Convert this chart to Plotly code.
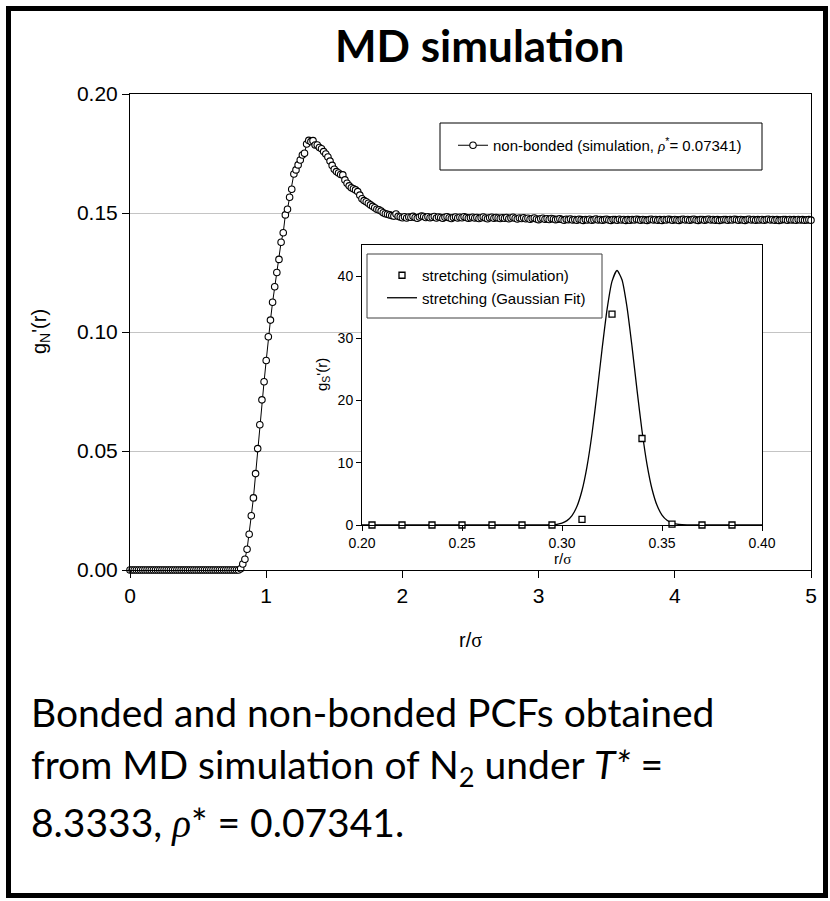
import numpy as np
import plotly.graph_objects as go

# ---------------- data ----------------
# non-bonded PCF g_N'(r), r/sigma sampled uniformly from 0 to 5
g_nonbonded = [
    0.0, 0.0, 0.0, 0.0, 0.0, 0.0, 0.0, 0.0, 0.0, 0.0,
    0.0, 0.0, 0.0, 0.0, 0.0, 0.0, 0.0, 0.0, 0.0, 0.0,
    0.0, 0.0, 0.0, 0.0, 0.0, 0.0, 0.0, 0.0, 0.0, 0.0,
    0.0, 0.0, 0.0, 0.0, 0.0, 0.0, 0.0, 0.0, 0.0, 0.0,
    0.0, 0.0, 0.0, 0.0, 0.0, 0.0, 0.0, 0.0, 0.0, 0.0,
    0.0, 0.0,
    0.0005, 0.0025, 0.0045, 0.0087, 0.0150, 0.0228, 0.0303, 0.0405, 0.0510, 0.0610,
    0.0715, 0.0791, 0.0880, 0.0980, 0.1050, 0.1125, 0.1190, 0.1250, 0.1305, 0.1377,
    0.1417, 0.1492, 0.1516, 0.1566, 0.1600, 0.1664, 0.1681, 0.1702, 0.1723, 0.1744,
    0.1751, 0.1790, 0.1805, 0.1800, 0.1804, 0.1786, 0.1786, 0.1775, 0.1770, 0.1758,
    0.1748, 0.1735, 0.1718, 0.1700, 0.1684, 0.1674, 0.1668, 0.1662, 0.1660, 0.1639,
    0.1625, 0.1614, 0.1606, 0.1602, 0.1597, 0.1590, 0.1575, 0.1560, 0.1552, 0.1547,
    0.1541, 0.1534, 0.1528, 0.1522, 0.1516, 0.1513, 0.1508, 0.1501, 0.1497, 0.1495,
    0.1492, 0.1489, 0.1487, 0.1496, 0.1486, 0.1483,
    0.1480, 0.1484, 0.1479, 0.1483, 0.1482, 0.1486, 0.1481, 0.1478, 0.1483, 0.1487, 0.1485, 0.1481, 0.1484,
    0.1480, 0.1482, 0.1485, 0.1479, 0.1483, 0.1481, 0.1478, 0.1482, 0.1484, 0.1480,
    0.1477, 0.1481, 0.1483, 0.1479, 0.1482, 0.1480, 0.1484, 0.1481, 0.1478, 0.1480,
    0.1482, 0.1479, 0.1481, 0.1477, 0.1480, 0.1483, 0.1479, 0.1476, 0.1480, 0.1482,
    0.1478, 0.1481, 0.1479, 0.1477, 0.1480, 0.1478, 0.1481, 0.1476, 0.1479, 0.1482,
    0.1478, 0.1475, 0.1479, 0.1477, 0.1480, 0.1476, 0.1478, 0.1474, 0.1477, 0.1479,
    0.1475, 0.1472, 0.1476, 0.1478, 0.1474, 0.1476, 0.1473, 0.1477, 0.1475, 0.1472,
    0.1474, 0.1476, 0.1473, 0.1470, 0.1474, 0.1472, 0.1475, 0.1471, 0.1473, 0.1470,
    0.1474, 0.1472, 0.1469, 0.1473, 0.1471, 0.1474, 0.1470, 0.1472, 0.1475, 0.1471,
    0.1473, 0.1470, 0.1472, 0.1474, 0.1471, 0.1469, 0.1473, 0.1472, 0.1470, 0.1474,
    0.1471, 0.1473, 0.1469, 0.1472, 0.1470, 0.1473, 0.1471, 0.1474, 0.1472, 0.1470,
    0.1473, 0.1471, 0.1469, 0.1472, 0.1474, 0.1471, 0.1473, 0.1470, 0.1472, 0.1469,
    0.1473, 0.1471, 0.1474, 0.1472, 0.1470, 0.1473, 0.1471, 0.1469, 0.1472, 0.1474,
    0.1471, 0.1473, 0.1470, 0.1472, 0.1474, 0.1471, 0.1469, 0.1472, 0.1473, 0.1470,
    0.1472, 0.1474, 0.1471, 0.1473, 0.1470, 0.1472, 0.1469, 0.1471, 0.1473, 0.1472,
    0.1470, 0.1473, 0.1471, 0.1474, 0.1472, 0.1470, 0.1473, 0.1471, 0.1469, 0.1472,
    0.1474, 0.1471, 0.1473, 0.1470, 0.1472, 0.1471, 0.1473, 0.1470, 0.1472, 0.1474,
    0.1471, 0.1473, 0.1470, 0.1472, 0.1469, 0.1471, 0.1473, 0.1472, 0.1470, 0.1473,
    0.1471, 0.1472, 0.1470, 0.1473, 0.1471, 0.1472, 0.1470, 0.1471, 0.1472, 0.1470,
]
r_nonbonded = np.linspace(0.0, 5.0, len(g_nonbonded))

# stretching (bonded) PCF, simulation points
r_stretch_sim = [0.205, 0.220, 0.235, 0.250, 0.265, 0.280, 0.295, 0.310, 0.325, 0.340, 0.355, 0.370, 0.385]
g_stretch_sim = [0.0, 0.0, 0.0, 0.0, 0.0, 0.0, 0.0, 0.9, 33.9, 13.9, 0.15, 0.0, 0.0]

# stretching, Gaussian fit curve
r_stretch_fit = [0.200, 0.210, 0.220, 0.230, 0.240, 0.250, 0.260, 0.270, 0.280, 0.285,
                 0.2900, 0.2925, 0.2950, 0.2975, 0.3000, 0.3025, 0.3050, 0.3075, 0.3100, 0.3125,
                 0.3150, 0.3175, 0.3200, 0.3225, 0.3250, 0.3275, 0.3300, 0.3325, 0.3350, 0.3375,
                 0.3400, 0.3425, 0.3450, 0.3475, 0.3500, 0.3525, 0.3550, 0.3575, 0.3600, 0.3625,
                 0.3650, 0.370, 0.380, 0.390, 0.400]
g_stretch_fit = [0.0, 0.0, 0.0, 0.0, 0.0, 0.0, 0.0, 0.0, 0.0, 0.0,
                 0.004, 0.014, 0.043, 0.118, 0.30, 0.70, 1.51, 3.01, 5.54, 9.39,
                 14.67, 21.17, 28.17, 34.58, 39.15, 40.90, 39.41, 35.03, 28.72, 21.72,
                 15.15, 9.76, 5.79, 3.17, 1.60, 0.75, 0.32, 0.13, 0.05, 0.016,
                 0.005, 0.0, 0.0, 0.0, 0.0]

main_xticks = [0, 1, 2, 3, 4, 5]
main_yticks = [0.00, 0.05, 0.10, 0.15, 0.20]
inset_xticks = [0.20, 0.25, 0.30, 0.35, 0.40]
inset_yticks = [0, 10, 20, 30, 40]

# ---------------- layout helpers ----------------
W, H = 830, 901
L, R, T, B = 130, 19, 94, 331
PW = W - L - R
PH = H - T - B


def px(x):
    return (x - L) / PW


def py(y):
    return (H - B - y) / PH


SANS = "Liberation Sans, Arial, sans-serif"
CAL = "Lato, Carlito, Calibri, sans-serif"
SIG = "<span style='font-family:Liberation Serif'>σ</span>"
RHO = "<span style='font-family:Liberation Serif'><i>ρ</i></span>"

fig = go.Figure()

fig.add_trace(go.Scatter(
    x=r_nonbonded, y=g_nonbonded, mode="lines+markers",
    name="non-bonded (simulation, " + RHO + "<sup>*</sup>= 0.07341)",
    line=dict(color="black", width=1),
    marker=dict(symbol="circle", size=6.5, color="white", line=dict(color="black", width=1.1)),
    cliponaxis=False, xaxis="x", yaxis="y", legend="legend",
))

fig.add_trace(go.Scatter(
    x=r_stretch_fit, y=g_stretch_fit, mode="lines",
    name="stretching (Gaussian Fit)",
    line=dict(color="black", width=1.3, shape="spline", smoothing=0.6),
    xaxis="x2", yaxis="y2", legend="legend2", legendrank=2,
))

fig.add_trace(go.Scatter(
    x=r_stretch_sim, y=g_stretch_sim, mode="markers",
    name="stretching (simulation)",
    marker=dict(symbol="square", size=6, color="white", line=dict(color="black", width=1.3)),
    cliponaxis=False, xaxis="x2", yaxis="y2", legend="legend2", legendrank=1,
))

axis_common = dict(showline=True, linecolor="black", linewidth=1, mirror=True,
                   ticks="outside", tickcolor="black", zeroline=False)

fig.update_layout(
    width=W, height=H,
    margin=dict(l=L, r=R, t=T, b=B, autoexpand=False),
    paper_bgcolor="white", plot_bgcolor="white",
    showlegend=True,
    xaxis=dict(domain=[0, 1], range=[0, 5], tickvals=main_xticks, ticklen=7,
               showgrid=False, tickfont=dict(family=SANS, size=21, color="black"),
               anchor="y", **axis_common),
    yaxis=dict(domain=[0, 1], range=[0, 0.2], tickvals=main_yticks, tickformat=".2f",
               ticklen=7, showgrid=True, gridcolor="#c4c4c4", gridwidth=1,
               tickfont=dict(family=SANS, size=21, color="black"),
               anchor="x", **axis_common),
    xaxis2=dict(domain=[px(362), px(762)], range=[0.2, 0.4], tickvals=inset_xticks,
                tickformat=".2f", ticklen=5, showgrid=False,
                tickfont=dict(family=SANS, size=14, color="black"),
                anchor="y2", **axis_common),
    yaxis2=dict(domain=[py(525), py(245)], range=[0, 45], tickvals=inset_yticks,
                ticklen=5, showgrid=False,
                tickfont=dict(family=SANS, size=14, color="black"),
                anchor="x2", **axis_common),
    legend=dict(x=px(453), y=py(129), xanchor="left", yanchor="top",
                bgcolor="rgba(0,0,0,0)", borderwidth=0,
                font=dict(family=SANS, size=15, color="black")),
    legend2=dict(x=px(382), y=py(259), xanchor="left", yanchor="top",
                 bgcolor="rgba(0,0,0,0)", borderwidth=0, tracegroupgap=0,
                 font=dict(family=SANS, size=15, color="black")),
)

shapes = [
    # outer frame
    dict(type="rect", xref="paper", yref="paper",
         x0=px(8.5), x1=px(825.5), y0=py(895.5), y1=py(8.5),
         line=dict(color="black", width=5), fillcolor="rgba(0,0,0,0)", layer="above"),
    # main legend box
    dict(type="rect", xref="paper", yref="paper",
         x0=px(440), x1=px(762), y0=py(170), y1=py(123),
         line=dict(color="black", width=1), fillcolor="rgba(0,0,0,0)", layer="above"),
    # inset legend box
    dict(type="rect", xref="paper", yref="paper",
         x0=px(367), x1=px(602), y0=py(318), y1=py(254),
         line=dict(color="#404040", width=1), fillcolor="rgba(0,0,0,0)", layer="above"),
]
fig.update_layout(shapes=shapes)

annotations = [
    dict(text="<b>MD simulation</b>", x=px(479), y=py(45), xref="paper", yref="paper",
         xanchor="center", yanchor="middle", showarrow=False,
         font=dict(family=CAL, size=44, color="black")),
    dict(text="g<sub>N</sub>'(r)", x=px(40), y=py(332), xref="paper", yref="paper",
         xanchor="center", yanchor="middle", showarrow=False, textangle=-90,
         font=dict(family=SANS, size=20, color="black")),
    dict(text="r/" + SIG, x=px(470), y=py(640), xref="paper", yref="paper",
         xanchor="center", yanchor="middle", showarrow=False,
         font=dict(family=SANS, size=20, color="black")),
    dict(text="g<sub>S</sub>'(r)", x=px(322), y=py(375), xref="paper", yref="paper",
         xanchor="center", yanchor="middle", showarrow=False, textangle=-90,
         font=dict(family=SANS, size=15, color="black")),
    dict(text="r/" + SIG, x=px(562), y=py(558), xref="paper", yref="paper",
         xanchor="center", yanchor="middle", showarrow=False,
         font=dict(family=SANS, size=15, color="black")),
    dict(text="Bonded and non-bonded PCFs obtained", x=px(29), y=py(712),
         xref="paper", yref="paper", xanchor="left", yanchor="middle", showarrow=False,
         font=dict(family=CAL, size=39, color="black")),
    dict(text="from MD simulation of N<sub>2</sub> under <i>T*</i> =", x=px(29), y=py(767),
         xref="paper", yref="paper", xanchor="left", yanchor="middle", showarrow=False,
         font=dict(family=CAL, size=39, color="black")),
    dict(text="8.3333, " + RHO + "* = 0.07341.", x=px(29), y=py(822),
         xref="paper", yref="paper", xanchor="left", yanchor="middle", showarrow=False,
         font=dict(family=CAL, size=39, color="black")),
]
fig.update_layout(annotations=annotations)

fig.write_html("out.html", config={"displayModeBar": False})
